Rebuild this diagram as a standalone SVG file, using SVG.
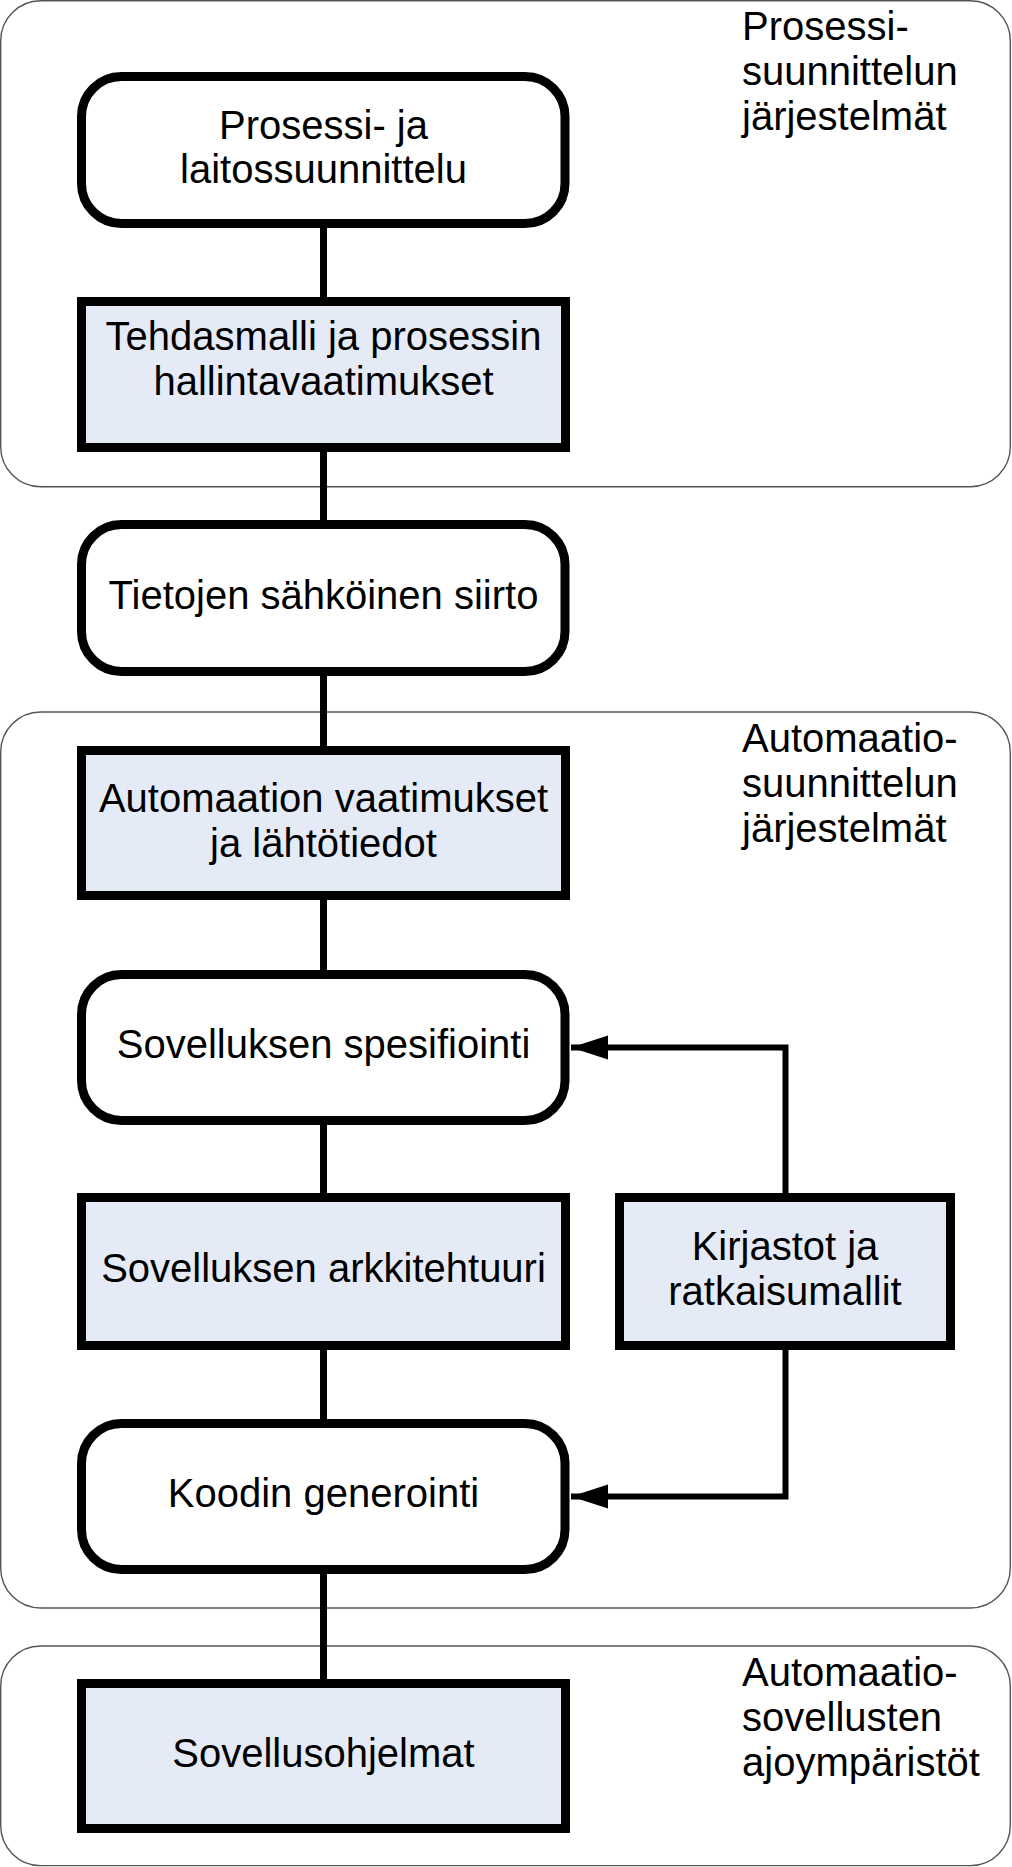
<svg xmlns="http://www.w3.org/2000/svg" width="1012" height="1867" viewBox="0 0 1012 1867">
<style>
.cont{fill:#ffffff;stroke:#555555;stroke-width:1.4}
.rnd{fill:#ffffff;stroke:#000000;stroke-width:9}
.box{fill:#E5EBF6;stroke:#000000;stroke-width:9}
.t{font-family:"Liberation Sans",Arial,sans-serif;font-size:40px;fill:#000000}
.c{text-anchor:middle}
.ln{stroke:#000000;stroke-width:7;fill:none}
.fb{stroke:#000000;stroke-width:6;fill:none;marker-end:url(#ah)}
</style>
<defs>
<marker id="ah" markerUnits="userSpaceOnUse" markerWidth="40" markerHeight="26" refX="37" refY="13" orient="auto">
<path d="M0,1 L37,13 L0,25 Z" fill="#000000"/>
</marker>
</defs>
<g id="containers">
<g id="zone-prosessi">
<rect class="cont" x="0.7" y="0.7" width="1009.6" height="486" rx="40" ry="40"/>
<text class="t" x="742" y="40">Prosessi-</text>
<text class="t" x="742" y="85">suunnittelun</text>
<text class="t" x="742" y="130">järjestelmät</text>
</g>
<g id="zone-automaatio">
<rect class="cont" x="0.7" y="712" width="1009.6" height="896" rx="40" ry="40"/>
<text class="t" x="742" y="752">Automaatio-</text>
<text class="t" x="742" y="797">suunnittelun</text>
<text class="t" x="742" y="842">järjestelmät</text>
</g>
<g id="zone-ajoymparistot">
<rect class="cont" x="0.7" y="1646" width="1009.6" height="219.6" rx="40" ry="40"/>
<text class="t" x="742" y="1686">Automaatio-</text>
<text class="t" x="742" y="1731">sovellusten</text>
<text class="t" x="742" y="1776">ajoympäristöt</text>
</g>
</g>
<g id="connectors">
<line class="ln" x1="323.5" y1="224" x2="323.5" y2="301"/>
<line class="ln" x1="323.5" y1="448" x2="323.5" y2="524"/>
<line class="ln" x1="323.5" y1="672" x2="323.5" y2="750"/>
<line class="ln" x1="323.5" y1="896" x2="323.5" y2="974"/>
<line class="ln" x1="323.5" y1="1121" x2="323.5" y2="1197"/>
<line class="ln" x1="323.5" y1="1346" x2="323.5" y2="1423"/>
<line class="ln" x1="323.5" y1="1570" x2="323.5" y2="1683"/>
<polyline class="fb" points="785.5,1197 785.5,1047.5 571,1047.5"/>
<polyline class="fb" points="785.5,1346 785.5,1496.5 571,1496.5"/>
</g>
<g id="n1">
<rect class="rnd" x="81.5" y="76.5" width="483.5" height="147" rx="40" ry="40"/>
<text class="t c" x="323.5" y="139">Prosessi- ja</text>
<text class="t c" x="323.5" y="183">laitossuunnittelu</text>
</g>
<g id="n2">
<rect class="box" x="81.5" y="301.5" width="484" height="146"/>
<text class="t c" x="323.5" y="350">Tehdasmalli ja prosessin</text>
<text class="t c" x="323.5" y="395">hallintavaatimukset</text>
</g>
<g id="n3">
<rect class="rnd" x="81.5" y="524.5" width="483.5" height="147" rx="40" ry="40"/>
<text class="t c" x="323.5" y="609">Tietojen sähköinen siirto</text>
</g>
<g id="n4">
<rect class="box" x="81.5" y="750.5" width="484" height="145"/>
<text class="t c" x="323.5" y="812">Automaation vaatimukset</text>
<text class="t c" x="323.5" y="857">ja lähtötiedot</text>
</g>
<g id="n5">
<rect class="rnd" x="81.5" y="974.5" width="483.5" height="146" rx="40" ry="40"/>
<text class="t c" x="323.5" y="1058">Sovelluksen spesifiointi</text>
</g>
<g id="n6">
<rect class="box" x="81.5" y="1197.5" width="484" height="148"/>
<text class="t c" x="323.5" y="1282">Sovelluksen arkkitehtuuri</text>
</g>
<g id="n-kirjastot">
<rect class="box" x="619.5" y="1197.5" width="331" height="148"/>
<text class="t c" x="785" y="1260">Kirjastot ja</text>
<text class="t c" x="785" y="1305">ratkaisumallit</text>
</g>
<g id="n7">
<rect class="rnd" x="81.5" y="1423.5" width="483.5" height="146" rx="40" ry="40"/>
<text class="t c" x="323.5" y="1507">Koodin generointi</text>
</g>
<g id="n8">
<rect class="box" x="81.5" y="1683.5" width="484" height="145"/>
<text class="t c" x="323.5" y="1767">Sovellusohjelmat</text>
</g>
</svg>
